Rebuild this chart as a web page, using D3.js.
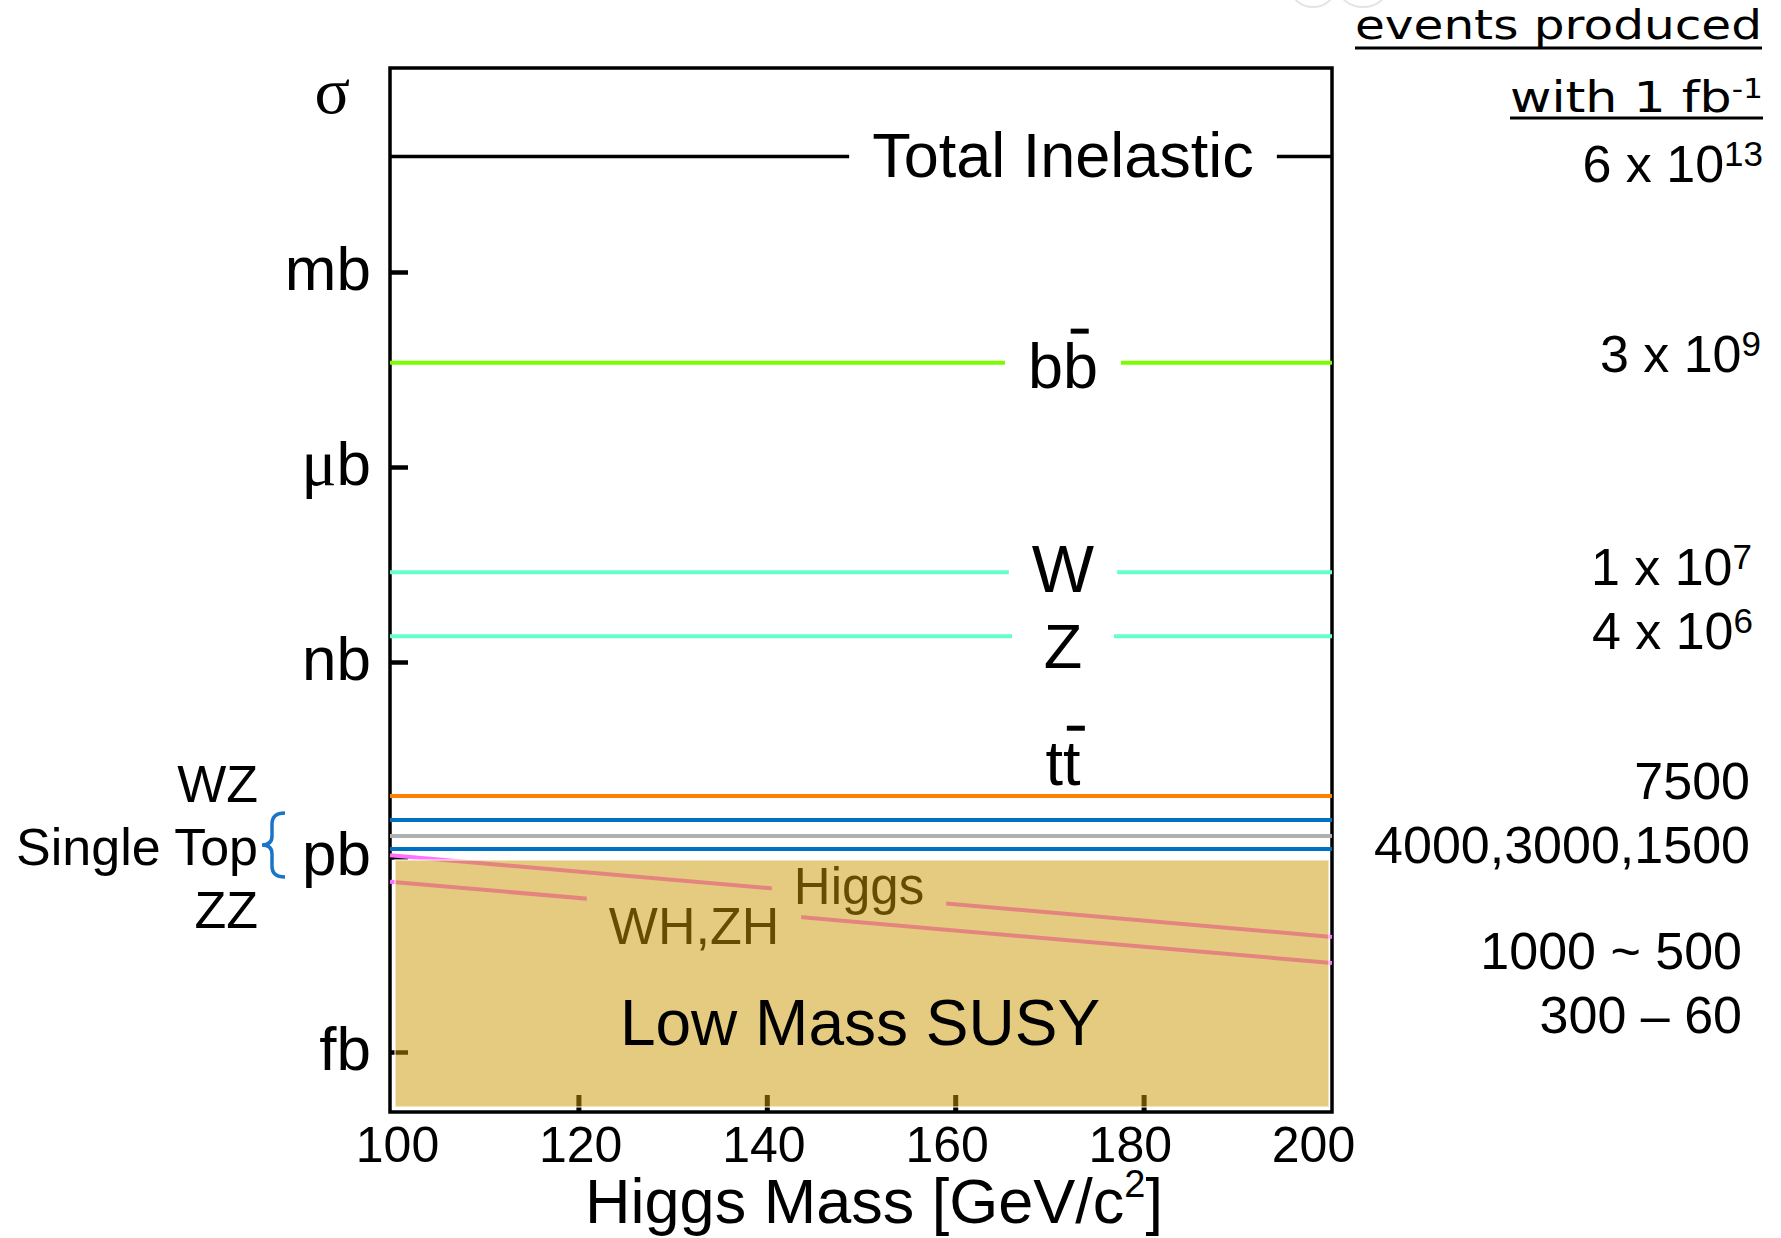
<!DOCTYPE html>
<html><head><meta charset="utf-8">
<script src="https://cdn.jsdelivr.net/npm/d3@7"></script>
<style>body{margin:0;background:#fff}svg{display:block}</style>
</head><body><svg id="c" width="1781" height="1238"></svg>
<script>
// ---------------- data ----------------
const processes      = ["Total Inelastic", "bb", "W", "Z", "tt", "WZ", "Single Top", "ZZ"];
const crossSectionsPb = [6e10, 4e7, 2.4e4, 2.5e3, 8.7, 3.7, 2.1, 1.33];
const processColors  = ["#000000", "#7cfc00", "#66ffcc", "#66ffcc", "#ff8000", "#0070c0", "#b0b0b0", "#0070c0"];
const eventsBase     = ["6 x 10", "3 x 10", "1 x 10", "4 x 10", "7500", "4000,3000,1500", "1000 ~ 500", "300 \u2013 60"];
const eventsExp      = ["13", "9", "7", "6", "", "", "", ""];
const higgsMass      = [100, 200];
const higgsXS        = [1.06, 0.059];   // pb
const whzhXS         = [0.417, 0.0234]; // pb
const susyTopXS      = 0.9;             // pb
const xTickValues    = [100, 120, 140, 160, 180, 200];
const xInnerTicks    = [120, 140, 160, 180];
const yTickValues    = [1e9, 1e6, 1e3, 1, 1e-3];
const yTickLabels    = ["mb", "\u03bcb", "nb", "pb", "fb"];

// ---------------- layout ----------------
const W = 1781, H = 1238;
const SANS = "'Liberation Sans', Arial, sans-serif";
const SERIF = "'Liberation Serif', 'Times New Roman', serif";
const frameTop = 68, frameBottom = 1112;
const LABEL_CX = 1063;
const inline = [
  {dy: 21, size: 63},
  {dy: 25, size: 63, bar: true},
  {dy: 20, size: 66},
  {dy: 32, size: 63},
  {dy: -11, size: 63, bar: true, noGap: true}
];
const rightX = [1763, 1761, 1752, 1753, 1750, 1750, 1742, 1742];
const rightBaseline = [182, 372, 585, 649, 799, 863, 969, 1033];

const svg = d3.select("#c");
svg.append("rect").attr("width", W).attr("height", H).attr("fill", "#fff");
const defs = svg.append("defs");

const x = d3.scaleLinear().domain([100, 200]).range([390, 1332]);
const xLabel = d3.scaleLinear().domain([100, 200]).range([397, 1313]);
const y = d3.scaleLog().domain([1e-3, 1e9]).range([1052, 272]);

// faint artifact at top
svg.append("ellipse").attr("cx", 1313).attr("cy", -12).attr("rx", 22).attr("ry", 19)
  .attr("fill", "none").attr("stroke", "#e4e4e4").attr("stroke-width", 2);
svg.append("ellipse").attr("cx", 1363).attr("cy", -12).attr("rx", 24).attr("ry", 19)
  .attr("fill", "none").attr("stroke", "#e4e4e4").attr("stroke-width", 2);

// frame
svg.append("rect").attr("x", x.range()[0]).attr("y", frameTop)
  .attr("width", x.range()[1] - x.range()[0]).attr("height", frameBottom - frameTop)
  .attr("fill", "none").attr("stroke", "#000").attr("stroke-width", 3.5);

// y axis (inward ticks, unit labels)
const yAx = svg.append("g").attr("transform", `translate(${x.range()[0]},0)`)
  .call(d3.axisLeft(y).tickValues(yTickValues).tickFormat((d, i) => yTickLabels[i])
        .tickSizeInner(-18).tickSizeOuter(0).tickPadding(19));
yAx.select(".domain").remove();
yAx.selectAll(".tick line").attr("stroke", "#000").attr("stroke-width", 4.5);
yAx.selectAll(".tick text").attr("font-family", SANS).attr("font-size", 62).attr("fill", "#000").attr("dy", "0.28em")
  .each(function(d, i) {
    const t = d3.select(this);
    const s = yTickLabels[i];
    if (s.startsWith("\u03bc")) {
      t.text(null);
      t.append("tspan").attr("font-family", SERIF).attr("font-size", 66).text("\u03bc");
      t.append("tspan").text(s.slice(1));
    }
  });
svg.append("text").attr("x", 350).attr("y", 113).attr("text-anchor", "end")
  .attr("font-family", SERIF).attr("font-size", 66).text("\u03c3");

// x axis inner ticks
const xIn = svg.append("g").attr("transform", `translate(0,${frameBottom})`)
  .call(d3.axisBottom(x).tickValues(xInnerTicks).tickFormat("").tickSizeInner(-17).tickSizeOuter(0));
xIn.select(".domain").remove();
xIn.selectAll(".tick text").remove();
xIn.selectAll(".tick line").attr("stroke", "#000").attr("stroke-width", 5);

// x axis labels
const xAx = svg.append("g").attr("transform", `translate(0,${frameBottom})`)
  .call(d3.axisBottom(xLabel).tickValues(xTickValues).tickSize(0).tickPadding(14));
xAx.select(".domain").remove();
xAx.selectAll(".tick text").attr("font-family", SANS).attr("font-size", 50).attr("fill", "#000");

const xt = svg.append("text").attr("x", 874).attr("y", 1223).attr("text-anchor", "middle")
  .attr("font-family", SANS).attr("font-size", 63);
xt.append("tspan").text("Higgs Mass [GeV/c");
xt.append("tspan").attr("font-size", 38).attr("dy", -26).text("2");
xt.append("tspan").attr("dy", 26).text("]");

// process lines + inline labels
const gLines = svg.append("g");
processes.forEach((p, i) => {
  const yy = y(crossSectionsPb[i]);
  const x0 = x.range()[0], x1 = x.range()[1];
  const lw = i === 0 ? 3.5 : 4;
  const L = inline[i];
  if (L) {
    const t = gLines.append("text").attr("x", LABEL_CX).attr("y", yy + L.dy).attr("text-anchor", "middle")
      .attr("font-family", SANS).attr("font-size", L.size).attr("fill", "#000").text(p);
    const w = t.node().getComputedTextLength();
    if (L.bar) {
      const ext = t.node().getExtentOfChar(1);
      gLines.append("rect").attr("x", ext.x + ext.width * 0.22).attr("y", yy + L.dy - L.size * 0.94)
        .attr("width", 18).attr("height", 5).attr("fill", "#000");
    }
    if (L.noGap) {
      gLines.append("line").attr("x1", x0).attr("x2", x1).attr("y1", yy).attr("y2", yy)
        .attr("stroke", processColors[i]).attr("stroke-width", lw);
    } else {
      const g = Math.max(w + 46, 102);
      [[x0, LABEL_CX - g / 2], [LABEL_CX + g / 2, x1]].forEach(s => {
        gLines.append("line").attr("x1", s[0]).attr("x2", s[1]).attr("y1", yy).attr("y2", yy)
          .attr("stroke", processColors[i]).attr("stroke-width", lw);
      });
    }
  } else {
    gLines.append("line").attr("x1", x0).attr("x2", x1).attr("y1", yy).attr("y2", yy)
      .attr("stroke", processColors[i]).attr("stroke-width", lw);
  }
});

// Higgs lines (under the SUSY box)
const lineGen = d3.line().x(d => x(d.m)).y(d => y(d.v));
const higgsSets = [
  {name: "Higgs", vals: higgsXS, cx: 859, base: 904, size: 51},
  {name: "WH,ZH", vals: whzhXS, cx: 694, base: 944, size: 52}
];
higgsSets.forEach((h, k) => {
  const t = svg.append("text").attr("x", h.cx).attr("y", h.base).attr("text-anchor", "middle")
    .attr("font-family", SANS).attr("font-size", h.size).attr("fill", "#000").text(h.name);
  const bb = t.node().getBBox();
  const m = defs.append("mask").attr("id", "hm" + k).attr("maskUnits", "userSpaceOnUse")
    .attr("x", 0).attr("y", 0).attr("width", W).attr("height", H);
  m.append("rect").attr("width", W).attr("height", H).attr("fill", "#fff");
  m.append("rect").attr("x", bb.x - 22).attr("y", 0).attr("width", bb.width + 44).attr("height", H).attr("fill", "#000");
  svg.append("path").datum(higgsMass.map((mm, j) => ({m: mm, v: h.vals[j]})))
    .attr("d", lineGen).attr("fill", "none").attr("stroke", "#ff70ff").attr("stroke-width", 4)
    .attr("mask", `url(#hm${k})`);
});

// Low mass SUSY box
const boxTop = y(susyTopXS);
svg.append("rect").attr("x", x(100) + 5).attr("y", boxTop)
  .attr("width", x(200) - 3 - (x(100) + 5)).attr("height", frameBottom - 5 - boxTop)
  .attr("fill", "rgb(201,151,0)").attr("fill-opacity", 0.5)
  .attr("stroke", "#fff").attr("stroke-opacity", 0.5).attr("stroke-width", 2);
svg.append("text").attr("x", 860).attr("y", 1045).attr("text-anchor", "middle")
  .attr("font-family", SANS).attr("font-size", 64).attr("fill", "#000").text("Low Mass SUSY");

// left labels WZ / Single Top / ZZ with brace
const yST = y(crossSectionsPb[6]);
[["WZ", -34], ["Single Top", 29], ["ZZ", 92]].forEach(([s, off]) => {
  svg.append("text").attr("x", 258).attr("y", yST + off).attr("text-anchor", "end")
    .attr("font-family", SANS).attr("font-size", 52).attr("fill", "#000").text(s);
});
const bc = yST + 9, bx = 272;
const bp = d3.path();
bp.moveTo(bx + 13, bc - 32);
bp.quadraticCurveTo(bx, bc - 32, bx, bc - 21);
bp.lineTo(bx, bc - 9);
bp.quadraticCurveTo(bx, bc, bx - 10, bc);
bp.quadraticCurveTo(bx, bc, bx, bc + 9);
bp.lineTo(bx, bc + 21);
bp.quadraticCurveTo(bx, bc + 32, bx + 13, bc + 32);
svg.append("path").attr("d", bp.toString()).attr("fill", "none")
  .attr("stroke", "#1a75c9").attr("stroke-width", 3.5);

// right: events produced
eventsBase.forEach((s, i) => {
  const t = svg.append("text").attr("x", rightX[i]).attr("y", rightBaseline[i]).attr("text-anchor", "end")
    .attr("font-family", SANS).attr("font-size", 52).attr("fill", "#000");
  t.append("tspan").text(s);
  if (eventsExp[i]) t.append("tspan").attr("font-size", 35).attr("dy", -16).text(eventsExp[i]);
});

// header
const HF = "'DejaVu Sans', Verdana, sans-serif";
const h1 = svg.append("text").attr("x", 1762).attr("y", 39).attr("text-anchor", "end")
  .attr("font-family", HF).attr("font-size", 40).attr("textLength", 407).attr("lengthAdjust", "spacingAndGlyphs")
  .text("events produced");
svg.append("line").attr("x1", 1762 - 407).attr("x2", 1762).attr("y1", 48).attr("y2", 48)
  .attr("stroke", "#000").attr("stroke-width", 3);
const h2 = svg.append("text").attr("x", 1763).attr("y", 112).attr("text-anchor", "end")
  .attr("font-family", HF).attr("font-size", 42).attr("textLength", 253).attr("lengthAdjust", "spacingAndGlyphs");
h2.append("tspan").text("with 1 fb");
h2.append("tspan").attr("font-size", 26).attr("dy", -14).text("-1");
svg.append("line").attr("x1", 1763 - 253).attr("x2", 1763).attr("y1", 118).attr("y2", 118)
  .attr("stroke", "#000").attr("stroke-width", 3);
</script></body></html>
